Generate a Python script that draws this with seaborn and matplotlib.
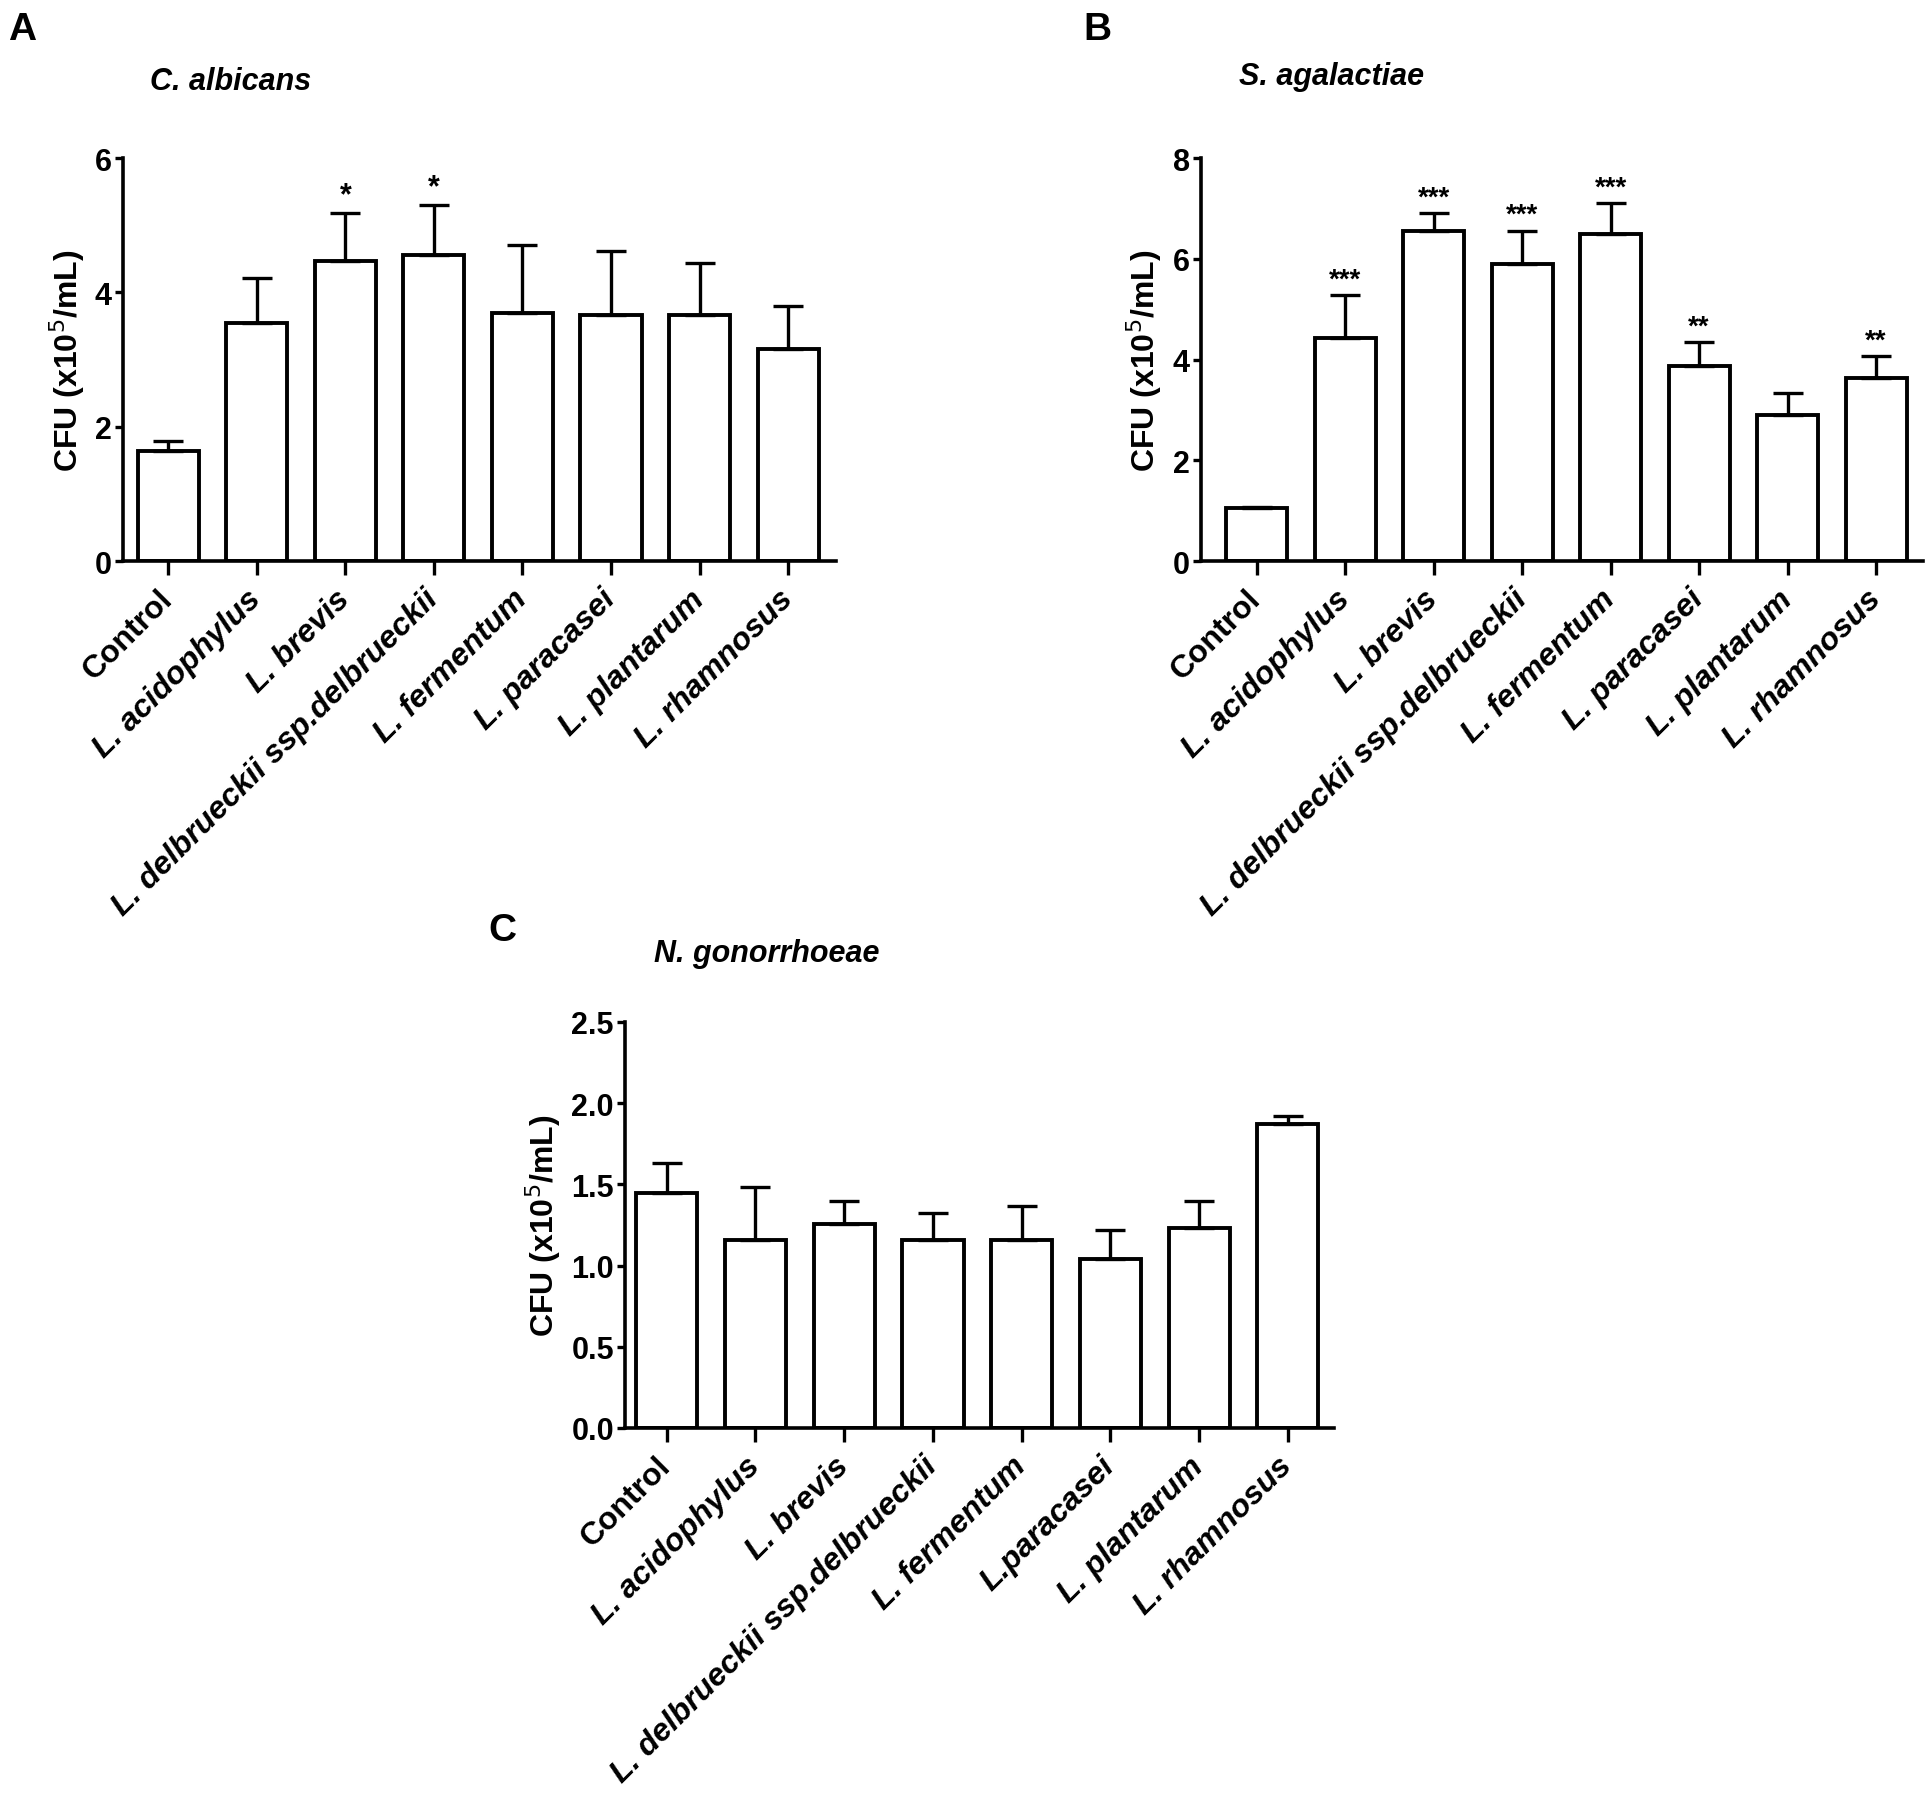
import numpy as np
import pandas as pd
import matplotlib
matplotlib.use("Agg")
import matplotlib.pyplot as plt
import seaborn as sns

# --- data ---
species_ab = ['Control', 'L. acidophylus', 'L. brevis', 'L. delbrueckii ssp.delbrueckii',
              'L. fermentum', 'L. paracasei', 'L. plantarum', 'L. rhamnosus']
species_c = ['Control', 'L. acidophylus', 'L. brevis', 'L. delbrueckii ssp.delbrueckii',
             'L. fermentum', 'L.paracasei', 'L. plantarum', 'L. rhamnosus']

albicans_mean = [1.64, 3.54, 4.47, 4.55, 3.69, 3.66, 3.66, 3.16]
albicans_sem = [0.15, 0.67, 0.71, 0.75, 1.01, 0.96, 0.77, 0.63]
albicans_sig = ['', '', '*', '*', '', '', '', '']

agalactiae_mean = [1.05, 4.43, 6.56, 5.90, 6.49, 3.87, 2.90, 3.64]
agalactiae_sem = [0.03, 0.85, 0.34, 0.66, 0.61, 0.47, 0.44, 0.42]
agalactiae_sig = ['', '***', '***', '***', '***', '**', '', '**']

gono_mean = [1.45, 1.155, 1.255, 1.155, 1.155, 1.04, 1.23, 1.87]
gono_sem = [0.18, 0.33, 0.145, 0.17, 0.21, 0.18, 0.17, 0.05]
gono_sig = ['', '', '', '', '', '', '', '']

sns.set_style("ticks")
plt.rcParams['font.family'] = ['Liberation Sans', 'DejaVu Sans']
for key in ['text.color', 'axes.labelcolor', 'xtick.color', 'ytick.color', 'axes.edgecolor']:
    plt.rcParams[key] = 'black'

W, H = 1933, 1806
fig = plt.figure(figsize=(W / 100, H / 100), dpi=100)


def px_axes(left, top, right, bottom):
    return fig.add_axes([left / W, 1 - bottom / H, (right - left) / W, (bottom - top) / H])


def panel(ax, labels, mean, sem, sig, ymax, yticks, xlim, star_size):
    df = pd.DataFrame({'group': labels, 'cfu': mean})
    sns.barplot(data=df, x='group', y='cfu', order=labels, color='white',
                edgecolor='black', linewidth=2.8, width=0.69, errorbar=None, ax=ax)
    x = np.arange(len(labels))
    ax.errorbar(x, mean, yerr=[np.zeros(len(sem)), sem], fmt='none', ecolor='black',
                elinewidth=2.4, capsize=11, capthick=2.4, zorder=1)
    for xi, m, e, s in zip(x, mean, sem, sig):
        if s:
            ax.annotate(s, (xi, m + e), xytext=(0, 2), textcoords='offset points',
                        ha='center', va='bottom', fontsize=star_size, fontweight='bold')
    ax.set_ylim(0, ymax)
    ax.set_xlim(*xlim)
    ax.set_yticks(yticks)
    ax.set_yticklabels([f'{t:g}' if ymax > 3 else f'{t:.1f}' for t in yticks],
                       fontsize=22, fontweight='bold')
    ax.set_xlabel('')
    ax.set_ylabel('CFU (x10$^{5}$/mL)', fontsize=23, fontweight='bold', labelpad=6)
    ax.set_xticks(x)
    ax.set_xticklabels(labels, rotation=45, ha='right', va='center', rotation_mode='anchor',
                       fontsize=23, fontweight='bold')
    for lab in ax.get_xticklabels():
        if lab.get_text() != 'Control':
            lab.set_fontstyle('italic')
    sns.despine(ax=ax)
    for sp in ['left', 'bottom']:
        ax.spines[sp].set_linewidth(2.6)
    ax.tick_params(axis='y', width=2.4, length=6, pad=2)
    ax.tick_params(axis='x', width=2.4, length=10, pad=14)


ax_a = px_axes(123, 159, 836, 562)
panel(ax_a, species_ab, albicans_mean, albicans_sem, albicans_sig, 6, [0, 2, 4, 6],
      (-0.51, 7.54), 22)

ax_b = px_axes(1201, 159, 1923, 562)
panel(ax_b, species_ab, agalactiae_mean, agalactiae_sem, agalactiae_sig, 8, [0, 2, 4, 6, 8],
      (-0.63, 7.53), 20)

ax_c = px_axes(625, 1023, 1334, 1429)
panel(ax_c, species_c, gono_mean, gono_sem, gono_sig, 2.5, [0, 0.5, 1.0, 1.5, 2.0, 2.5],
      (-0.47, 7.52), 20)

# panel letters and organism titles
fig.text(22 / W, 1 - 30 / H, 'A', fontsize=28, fontweight='bold', ha='center', va='center')
fig.text(1097 / W, 1 - 30 / H, 'B', fontsize=28, fontweight='bold', ha='center', va='center')
fig.text(502 / W, 1 - 931 / H, 'C', fontsize=28, fontweight='bold', ha='center', va='center')

fig.text(150 / W, 1 - 82 / H, 'C. albicans', fontsize=22, fontweight='bold',
         fontstyle='italic', ha='left', va='center')
fig.text(1239 / W, 1 - 77 / H, 'S. agalactiae', fontsize=22, fontweight='bold',
         fontstyle='italic', ha='left', va='center')
fig.text(654 / W, 1 - 954 / H, 'N. gonorrhoeae', fontsize=22, fontweight='bold',
         fontstyle='italic', ha='left', va='center')

fig.savefig('out.png', dpi=100, facecolor='white')
